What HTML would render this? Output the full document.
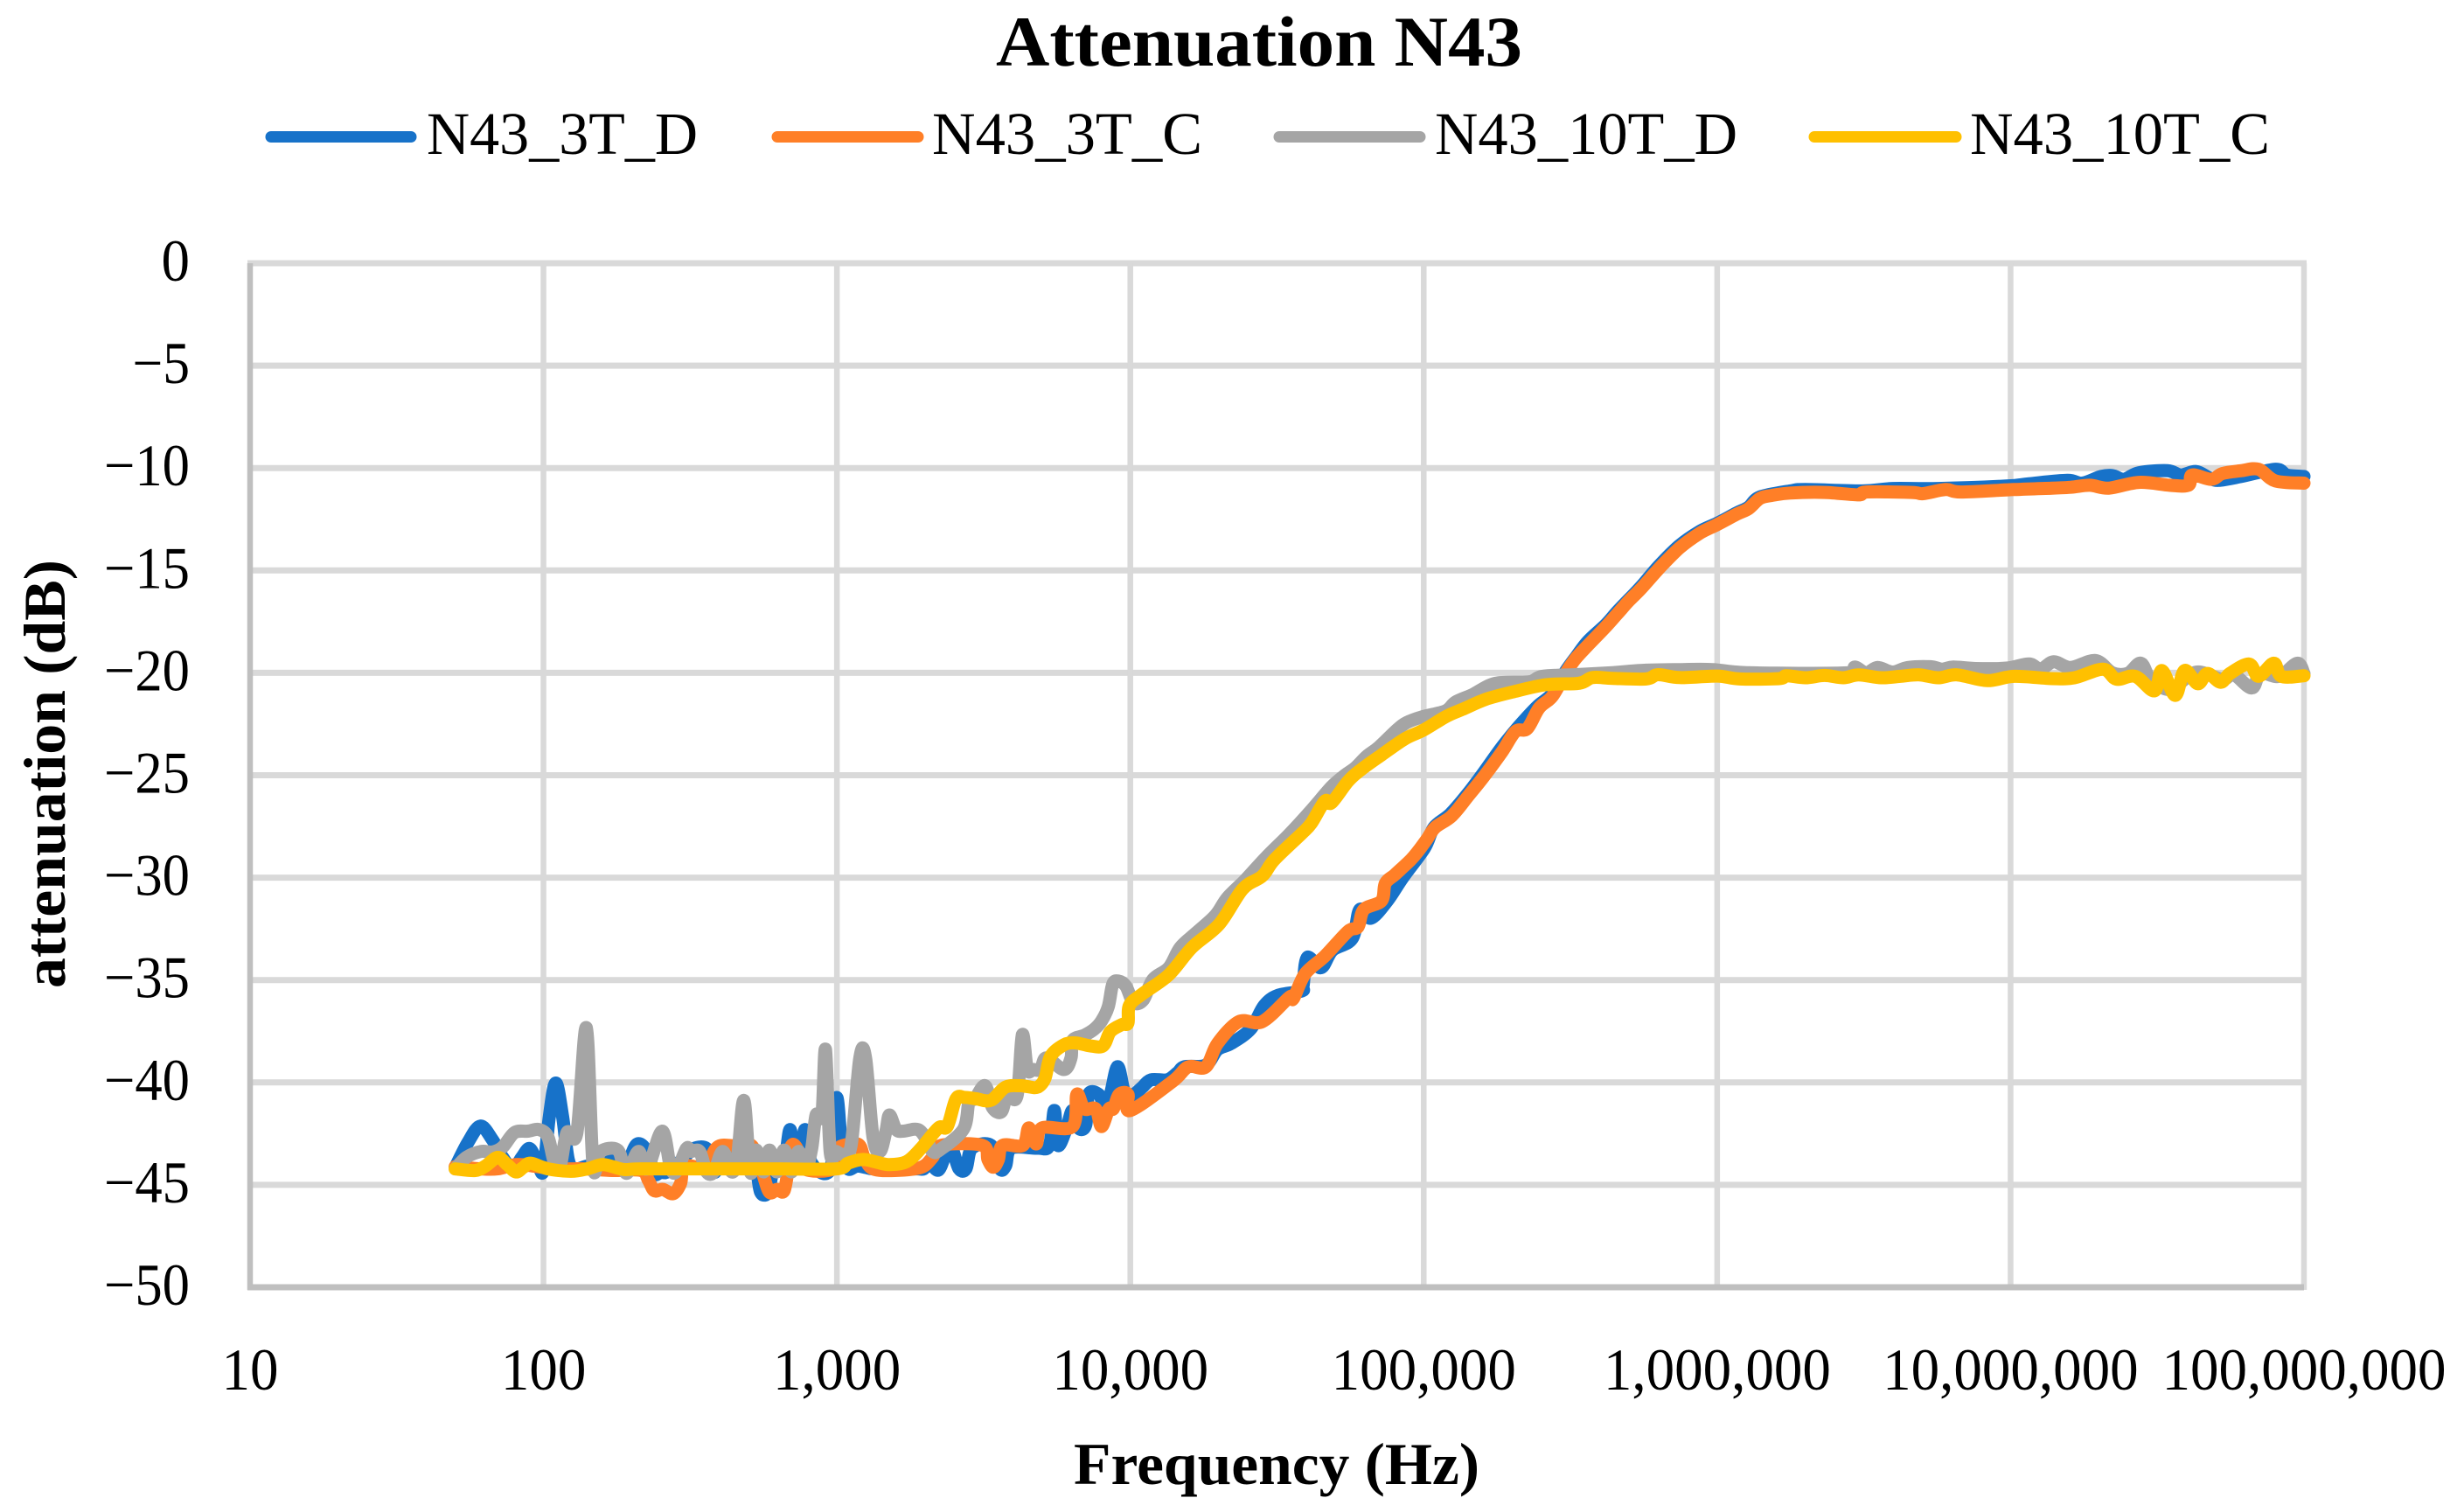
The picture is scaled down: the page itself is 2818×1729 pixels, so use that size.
<!DOCTYPE html>
<html lang="en">
<head>
<meta charset="utf-8">
<title>Attenuation N43</title>
<style>
html,body{margin:0;padding:0;background:#fff;}
svg{display:block;}
text{font-family:"Liberation Serif",serif;fill:#000;}
</style>
</head>
<body>
<svg id="chart" xmlns="http://www.w3.org/2000/svg" width="2818" height="1729" viewBox="0 0 2818 1729">
  <rect x="0" y="0" width="2818" height="1729" fill="#ffffff"/>
  <text x="1139" y="75" font-size="82" font-weight="bold" textLength="602" lengthAdjust="spacingAndGlyphs">Attenuation N43</text>

  <g>
    <g>
      <line x1="310" y1="156.5" x2="470" y2="156.5" stroke="#1772c9" stroke-width="13" stroke-linecap="round"/>
      <text x="488" y="176" font-size="69" textLength="310" lengthAdjust="spacingAndGlyphs">N43_3T_D</text>
    </g>
    <g>
      <line x1="889" y1="156.5" x2="1050" y2="156.5" stroke="#ff7f27" stroke-width="13" stroke-linecap="round"/>
      <text x="1066" y="176" font-size="69" textLength="309" lengthAdjust="spacingAndGlyphs">N43_3T_C</text>
    </g>
    <g>
      <line x1="1463" y1="156.5" x2="1624" y2="156.5" stroke="#a5a5a5" stroke-width="13" stroke-linecap="round"/>
      <text x="1641" y="176" font-size="69" textLength="346" lengthAdjust="spacingAndGlyphs">N43_10T_D</text>
    </g>
    <g>
      <line x1="2075" y1="156.5" x2="2237" y2="156.5" stroke="#ffc000" stroke-width="13" stroke-linecap="round"/>
      <text x="2253" y="176" font-size="69" textLength="343" lengthAdjust="spacingAndGlyphs">N43_10T_C</text>
    </g>
  </g>

  <g id="grid"></g>
  <g id="axes"></g>
  <g id="ticks"></g>
  <g id="series"></g>

  <text x="1228" y="1697" font-size="68" font-weight="bold" textLength="464" lengthAdjust="spacingAndGlyphs">Frequency (Hz)</text>
  <text transform="translate(74,1130) rotate(-90)" x="0" y="0" font-size="68" font-weight="bold" textLength="490" lengthAdjust="spacingAndGlyphs">attenuation (dB)</text>
</svg>

<script>
// Axis ticks
const xTickLogHz = [1, 2, 3, 4, 5, 6, 7, 8];
const xTickLabels = ["10", "100", "1,000", "10,000", "100,000", "1,000,000", "10,000,000", "100,000,000"];
const yTickValues = [0, -5, -10, -15, -20, -25, -30, -35, -40, -45, -50];
const yTickLabels = ["0", "\u22125", "\u221210", "\u221215", "\u221220", "\u221225", "\u221230", "\u221235", "\u221240", "\u221245", "\u221250"];

// N43_3T_D : frequency as log10(Hz), attenuation in dB
const n43_3T_D_logHz = [1.699,1.742,1.785,1.826,1.861,1.896,1.926,1.953,1.980,2.0,2.020,2.042,2.065,2.085,2.110,2.149,2.194,2.229,2.258,2.283,2.318,2.353,2.378,2.400,2.422,2.470,2.512,2.556,2.571,2.586,2.611,2.641,2.700,2.725,2.740,2.765,2.785,2.820,2.840,2.854,2.874,2.891,2.914,2.978,2.999,3.018,3.038,3.068,3.098,3.123,3.197,3.276,3.296,3.316,3.346,3.371,3.391,3.416,3.440,3.460,3.525,3.555,3.575,3.594,3.684,3.724,3.741,3.753,3.783,3.803,3.823,3.848,3.858,3.892,3.912,3.932,3.957,3.982,4.012,4.041,4.071,4.126,4.161,4.185,4.257,4.297,4.343,4.410,4.456,4.503,4.583,4.589,4.603,4.650,4.689,4.756,4.782,4.820,4.876,4.929,5.002,5.035,5.09,5.15,5.20,5.26,5.31,5.35,5.39,5.44,5.48,5.52,5.56,5.62,5.66,5.70,5.74,5.80,5.87,5.94,6.0,6.066,6.107,6.146,6.249,6.301,6.495,6.598,6.753,6.986,7.063,7.193,7.244,7.309,7.348,7.386,7.438,7.535,7.580,7.632,7.677,7.709,7.787,7.903,7.942,8.0];
const n43_3T_D_dB = [-44.15,-42.94,-42.13,-42.80,-43.66,-44.22,-43.66,-43.23,-43.94,-44.30,-41.66,-40.03,-41.66,-43.80,-44.22,-44.08,-44.08,-43.23,-44.22,-44.08,-43.02,-43.37,-44.44,-44.37,-44.37,-43.80,-43.23,-43.23,-43.94,-44.37,-43.23,-43.23,-43.80,-44.22,-45.36,-45.36,-44.22,-43.94,-42.30,-43.80,-44.08,-42.30,-43.94,-44.22,-40.74,-43.51,-44.22,-44.08,-44.15,-44.22,-44.22,-44.22,-44.22,-43.94,-44.28,-43.50,-43.21,-44.21,-44.21,-43.21,-43.07,-44.21,-44.07,-43.21,-43.21,-43.07,-41.37,-43.07,-42.22,-41.37,-42.22,-42.08,-40.58,-40.58,-41.08,-40.58,-39.23,-40.58,-40.58,-40.23,-39.87,-39.87,-39.52,-39.23,-39.15,-38.40,-38.10,-37.39,-36.25,-35.75,-35.54,-35.26,-33.90,-34.40,-33.55,-32.98,-31.56,-31.98,-31.13,-29.99,-28.57,-27.55,-26.90,-25.90,-24.95,-23.75,-22.85,-22.20,-21.60,-21.00,-20.00,-19.20,-18.45,-17.65,-17.00,-16.40,-15.80,-14.80,-13.80,-13.10,-12.70,-12.20,-11.91,-11.41,-11.12,-11.05,-11.12,-11.00,-11.00,-10.88,-10.77,-10.60,-10.74,-10.41,-10.37,-10.55,-10.23,-10.13,-10.34,-10.17,-10.48,-10.60,-10.41,-10.06,-10.34,-10.41];

// N43_3T_C
const n43_3T_C_logHz = [1.699,1.787,1.844,1.906,1.965,2.035,2.135,2.234,2.333,2.358,2.378,2.407,2.442,2.467,2.482,2.561,2.576,2.601,2.651,2.710,2.745,2.770,2.795,2.820,2.835,2.845,2.864,2.889,2.988,3.003,3.018,3.073,3.093,3.123,3.197,3.286,3.326,3.356,3.495,3.515,3.533,3.550,3.565,3.634,3.654,3.679,3.699,3.803,3.818,3.843,3.882,3.902,3.927,3.942,3.962,3.992,4.0,4.144,4.197,4.257,4.297,4.370,4.450,4.543,4.556,4.596,4.663,4.742,4.776,4.796,4.856,4.869,4.902,4.955,4.982,5.011,5.039,5.096,5.153,5.205,5.267,5.313,5.353,5.393,5.438,5.484,5.518,5.564,5.621,5.661,5.701,5.741,5.803,5.872,5.940,6.0,6.066,6.107,6.146,6.185,6.249,6.366,6.482,6.508,6.663,6.702,6.779,6.831,7.012,7.141,7.206,7.270,7.335,7.438,7.541,7.606,7.619,7.684,7.722,7.787,7.845,7.903,8.0];
const n43_3T_C_dB = [-44.11,-44.22,-44.22,-44.01,-44.08,-44.22,-44.22,-44.30,-44.30,-44.79,-45.29,-45.22,-45.43,-44.94,-44.08,-44.22,-43.51,-43.09,-43.09,-43.09,-44.37,-45.36,-45.22,-45.29,-44.08,-43.09,-43.23,-44.22,-44.22,-43.37,-43.09,-43.02,-43.66,-44.22,-44.30,-44.15,-43.66,-43.07,-43.07,-43.78,-44.14,-43.78,-43.07,-43.07,-42.22,-43.00,-42.22,-42.15,-40.58,-41.29,-41.29,-42.15,-41.29,-41.29,-40.58,-40.58,-41.37,-39.95,-39.24,-39.24,-38.10,-37.03,-37.03,-35.83,-35.90,-34.69,-33.83,-32.62,-32.41,-31.56,-31.13,-30.28,-29.85,-29.14,-28.69,-28.12,-27.55,-26.98,-25.99,-25.06,-23.85,-22.86,-22.72,-21.72,-21.15,-20.01,-19.30,-18.59,-17.74,-17.10,-16.46,-15.89,-14.89,-13.90,-13.19,-12.76,-12.26,-11.98,-11.48,-11.34,-11.22,-11.19,-11.31,-11.17,-11.19,-11.25,-11.05,-11.17,-11.05,-10.98,-10.94,-10.84,-10.98,-10.70,-10.84,-10.84,-10.34,-10.55,-10.27,-10.13,-10.06,-10.63,-10.74];

// N43_10T_D
const n43_10T_D_logHz = [1.699,1.737,1.787,1.826,1.861,1.901,1.946,1.985,2.015,2.035,2.055,2.080,2.114,2.146,2.169,2.194,2.253,2.283,2.323,2.353,2.404,2.432,2.452,2.487,2.502,2.532,2.556,2.581,2.611,2.641,2.661,2.683,2.705,2.725,2.750,2.770,2.795,2.820,2.845,2.869,2.894,2.914,2.929,2.949,2.961,2.977,2.998,3.018,3.048,3.078,3.098,3.123,3.147,3.167,3.179,3.202,3.227,3.276,3.306,3.326,3.351,3.431,3.450,3.470,3.505,3.530,3.560,3.580,3.614,3.632,3.649,3.669,3.694,3.714,3.773,3.798,3.803,3.843,3.877,3.902,3.925,3.940,3.960,3.985,4.011,4.044,4.077,4.131,4.170,4.224,4.290,4.330,4.390,4.463,4.543,4.617,4.686,4.731,4.766,4.806,4.846,4.908,4.942,4.994,5.074,5.108,5.165,5.245,5.359,5.404,5.518,5.644,5.758,5.872,5.986,6.100,6.443,6.469,6.508,6.547,6.598,6.650,6.727,6.766,6.805,6.882,6.986,7.063,7.102,7.147,7.205,7.289,7.347,7.399,7.444,7.477,7.541,7.606,7.645,7.722,7.761,7.822,7.852,7.916,7.977,8.0];
const n43_10T_D_dB = [-44.22,-43.66,-43.37,-43.40,-43.16,-42.45,-42.38,-42.30,-42.66,-43.80,-44.22,-42.45,-42.45,-37.33,-44.08,-43.37,-43.30,-44.44,-43.37,-44.22,-42.38,-44.08,-44.37,-43.23,-43.37,-43.37,-44.37,-44.37,-43.37,-44.37,-43.66,-40.88,-44.37,-43.30,-44.37,-43.30,-44.37,-43.30,-44.37,-43.37,-44.22,-43.23,-41.59,-41.59,-38.39,-43.37,-43.37,-43.51,-43.09,-38.82,-38.82,-42.66,-43.37,-42.38,-41.59,-42.30,-42.38,-42.30,-42.80,-43.37,-43.29,-42.29,-40.94,-40.80,-40.16,-41.22,-41.44,-40.65,-40.65,-37.67,-39.37,-39.37,-39.37,-38.80,-39.37,-38.80,-37.95,-37.70,-37.40,-37.00,-36.30,-35.20,-35.05,-35.30,-36.10,-35.97,-34.97,-34.40,-33.41,-32.70,-31.84,-30.99,-30.14,-29.00,-27.86,-26.70,-25.56,-25.00,-24.64,-24.07,-23.64,-22.79,-22.43,-22.15,-21.86,-21.43,-21.07,-20.51,-20.44,-20.17,-20.09,-19.99,-19.87,-19.84,-19.84,-19.99,-20.00,-19.72,-20.00,-19.74,-19.96,-19.74,-19.70,-19.82,-19.72,-19.79,-19.77,-19.57,-19.82,-19.46,-19.74,-19.40,-20.00,-20.03,-19.53,-20.31,-20.81,-20.17,-19.96,-20.31,-20.10,-20.74,-20.03,-20.17,-19.53,-20.03];

// N43_10T_C
const n43_10T_C_logHz = [1.699,1.767,1.802,1.844,1.876,1.906,1.931,1.956,2.015,2.095,2.154,2.204,2.273,2.333,2.6,2.8,2.998,3.038,3.088,3.137,3.177,3.237,3.286,3.346,3.376,3.406,3.435,3.475,3.525,3.574,3.624,3.649,3.684,3.709,3.728,3.773,3.813,3.862,3.907,3.932,3.972,3.992,3.997,4.041,4.131,4.210,4.303,4.383,4.450,4.490,4.583,4.617,4.663,4.686,4.743,4.788,4.857,4.937,5.0,5.074,5.131,5.210,5.302,5.416,5.530,5.575,5.644,5.758,5.798,5.872,6.0,6.077,6.211,6.236,6.301,6.366,6.430,6.482,6.559,6.624,6.689,6.753,6.818,6.921,7.012,7.141,7.218,7.315,7.361,7.425,7.490,7.516,7.561,7.593,7.638,7.671,7.716,7.748,7.813,7.845,7.897,7.923,8.0];
const n43_10T_C_dB = [-44.22,-44.30,-44.08,-43.66,-44.01,-44.37,-44.15,-43.94,-44.22,-44.34,-44.20,-44.01,-44.25,-44.22,-44.22,-44.22,-44.22,-43.94,-43.76,-43.90,-44.01,-43.87,-43.23,-42.22,-42.15,-40.80,-40.73,-40.80,-40.87,-40.23,-40.16,-40.20,-40.23,-39.80,-38.73,-38.17,-38.07,-38.21,-38.21,-37.52,-37.17,-37.10,-36.24,-35.68,-34.75,-33.41,-32.27,-30.56,-29.92,-29.14,-27.86,-27.34,-26.27,-26.34,-25.28,-24.71,-24.00,-23.21,-22.79,-22.15,-21.79,-21.30,-20.94,-20.58,-20.51,-20.23,-20.27,-20.30,-20.09,-20.23,-20.16,-20.30,-20.28,-20.14,-20.24,-20.13,-20.24,-20.10,-20.24,-20.17,-20.10,-20.24,-20.10,-20.38,-20.17,-20.28,-20.24,-19.82,-20.31,-20.17,-20.88,-19.89,-21.10,-19.89,-20.53,-20.03,-20.46,-20.03,-19.57,-20.17,-19.53,-20.17,-20.14];

const SVG_NS = "http://www.w3.org/2000/svg";
const plotLeft = 286, plotRight = 2635, plotTop = 301, plotBottom = 1472;
const logMin = 1, logMax = 8, dbMax = 0, dbMin = -50;

function xScale(logHz) {
  return plotLeft + (logHz - logMin) / (logMax - logMin) * (plotRight - plotLeft);
}
function yScale(db) {
  return plotTop + (dbMax - db) / (dbMax - dbMin) * (plotBottom - plotTop);
}
function make(tag, attrs, parent) {
  const el = document.createElementNS(SVG_NS, tag);
  for (const k in attrs) el.setAttribute(k, attrs[k]);
  parent.appendChild(el);
  return el;
}
function smoothPath(xs, ys) {
  const pts = xs.map((v, i) => [xScale(v), yScale(ys[i])]);
  let d = "M" + pts[0][0].toFixed(1) + " " + pts[0][1].toFixed(1);
  for (let i = 0; i < pts.length - 1; i++) {
    const p0 = pts[Math.max(i - 1, 0)], p1 = pts[i], p2 = pts[i + 1], p3 = pts[Math.min(i + 2, pts.length - 1)];
    const c1x = p1[0] + (p2[0] - p0[0]) / 6, c1y = p1[1] + (p2[1] - p0[1]) / 6;
    const c2x = p2[0] - (p3[0] - p1[0]) / 6, c2y = p2[1] - (p3[1] - p1[1]) / 6;
    d += "C" + c1x.toFixed(1) + " " + c1y.toFixed(1) + " " + c2x.toFixed(1) + " " + c2y.toFixed(1) + " " + p2[0].toFixed(1) + " " + p2[1].toFixed(1);
  }
  return d;
}
function labelWidth(label) {
  let w = 0;
  for (const ch of label) {
    if (ch === "\u2212") w += 33;
    else if (ch === ",") w += 16.25;
    else w += 32.5;
  }
  return w;
}

const gridGroup = document.getElementById("grid");
const axesGroup = document.getElementById("axes");
const tickGroup = document.getElementById("ticks");
const seriesGroup = document.getElementById("series");

yTickValues.forEach(function (v, i) {
  const y = yScale(v);
  if (v !== dbMin) {
    const g = make("line", { x1: plotLeft - 3, y1: y, x2: plotRight + 3, y2: y, stroke: "#d9d9d9", "stroke-width": 7 }, gridGroup);
    
    
  }
  const t = make("text", { x: 217, y: y + 20, "font-size": 68, "text-anchor": "end", textLength: labelWidth(yTickLabels[i]), lengthAdjust: "spacingAndGlyphs" }, tickGroup);
  
  
  t.textContent = yTickLabels[i];
});

xTickLogHz.forEach(function (v, i) {
  const x = xScale(v);
  if (v !== logMin) {
    const g = make("line", { x1: x, y1: plotTop, x2: x, y2: plotBottom + 3, stroke: "#d9d9d9", "stroke-width": 6.5 }, gridGroup);
    
    
  }
  const t = make("text", { x: x, y: 1589, "font-size": 68, "text-anchor": "middle", textLength: labelWidth(xTickLabels[i]), lengthAdjust: "spacingAndGlyphs" }, tickGroup);
  
  
  t.textContent = xTickLabels[i];
});

const yAxisLine = make("line", { x1: plotLeft, y1: plotTop, x2: plotLeft, y2: plotBottom + 3, stroke: "#bfbfbf", "stroke-width": 6.5 }, axesGroup);


const xAxisLine = make("line", { x1: plotLeft - 3, y1: plotBottom, x2: plotRight, y2: plotBottom, stroke: "#bfbfbf", "stroke-width": 7 }, axesGroup);



const lineBlue = make("path", { d: smoothPath(n43_3T_D_logHz, n43_3T_D_dB), fill: "none", stroke: "#1772c9", "stroke-width": 15, "stroke-linecap": "round", "stroke-linejoin": "round" }, seriesGroup);


const lineOrange = make("path", { d: smoothPath(n43_3T_C_logHz, n43_3T_C_dB), fill: "none", stroke: "#ff7f27", "stroke-width": 15, "stroke-linecap": "round", "stroke-linejoin": "round" }, seriesGroup);


const lineGray = make("path", { d: smoothPath(n43_10T_D_logHz, n43_10T_D_dB), fill: "none", stroke: "#a5a5a5", "stroke-width": 15, "stroke-linecap": "round", "stroke-linejoin": "round" }, seriesGroup);


const lineYellow = make("path", { d: smoothPath(n43_10T_C_logHz, n43_10T_C_dB), fill: "none", stroke: "#ffc000", "stroke-width": 15, "stroke-linecap": "round", "stroke-linejoin": "round" }, seriesGroup);


</script>
</body>
</html>
